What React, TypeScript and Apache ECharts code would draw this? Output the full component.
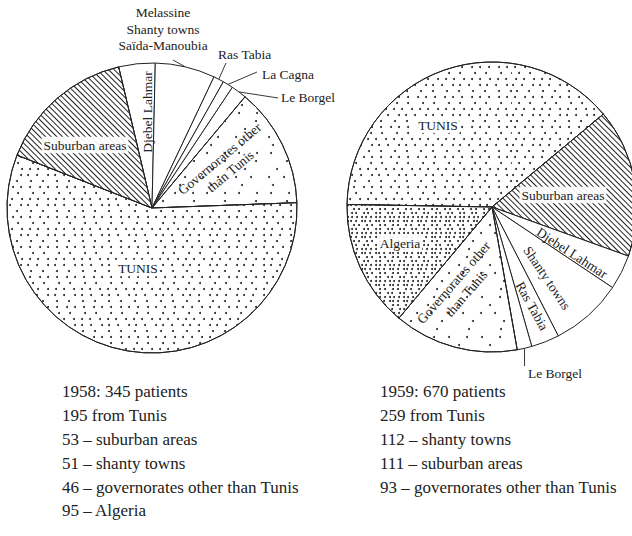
import React, { useEffect, useRef } from 'react';
import * as echarts from 'echarts';

// ---------- data ----------
const pie1958Names = [
  'Djebel Lahmar',
  'Melassine\nShanty towns\nSaïda-Manoubia',
  'Ras Tabia',
  'La Cagna',
  'Le Borgel',
  'Governorates other\nthan Tunis',
  'TUNIS',
  'Suburban areas',
];
const pie1958Values = [14, 23, 4, 4, 6, 46, 195, 53];

const pie1959Names = [
  'TUNIS',
  'Suburban areas',
  'Djebel Lahmar',
  'Shanty towns',
  'Ras Tabia',
  'Le Borgel',
  'Governorates other\nthan Tunis',
  'Algeria',
];
const pie1959Values = [259, 111, 26, 54, 21, 11, 93, 95];

const caption1958 = [
  '1958: 345 patients',
  '195 from Tunis',
  '53 – suburban areas',
  '51 – shanty towns',
  '46 – governorates other than Tunis',
  '95 – Algeria',
];
const caption1959 = [
  '1959: 670 patients',
  '259 from Tunis',
  '112 – shanty towns',
  '111 – suburban areas',
  '93 – governorates other than Tunis',
];

// ---------- styles ----------
const INK = '#222';
const FONT = 'Liberation Serif';

const decals: Record<string, any> = {
  dots: {
    symbol: 'circle',
    symbolSize: 1,
    color: INK,
    backgroundColor: '#fff',
    dashArrayX: [
      [1.75, 6.25, 1.75, 8.25, 1.75, 4.25],
      [0, 3.5, 1.75, 9.25, 1.75, 7.75],
      [0, 1.25, 1.75, 7.5, 1.75, 5.5, 1.75, 4.5],
      [0, 5.5, 1.75, 8.75, 1.75, 6.25],
      [0, 2.5, 1.75, 5.75, 1.75, 7.5, 1.75, 3],
    ],
    dashArrayY: [1.75, 3.25],
  },
  dense: {
    symbol: 'circle',
    symbolSize: 1,
    color: INK,
    backgroundColor: '#fff',
    dashArrayX: [
      [1.25, 2.25, 1.25, 3.5, 1.25, 0.5],
      [0, 1.5, 1.25, 2.75, 1.25, 3.25],
      [0, 2.75, 1.25, 1.75, 1.25, 3],
      [0, 0.5, 1.25, 3, 1.25, 2.25, 1.25, 0.5],
    ],
    dashArrayY: [1.25, 1.75],
  },
  sparse: {
    symbol: 'circle',
    symbolSize: 1,
    color: INK,
    backgroundColor: '#fff',
    dashArrayX: [
      [1.25, 11.75, 1.25, 15.75],
      [0, 7, 1.25, 21.75],
      [0, 19.5, 1.25, 9.25],
      [0, 3.25, 1.25, 12.5, 1.25, 11.75],
      [0, 24, 1.25, 4.75],
    ],
    dashArrayY: [1.25, 5.75],
  },
  hatch: {
    symbol: 'rect',
    symbolSize: 1,
    symbolKeepAspect: false,
    color: INK,
    backgroundColor: '#fff',
    dashArrayX: [1, 0],
    dashArrayY: [1, 3],
    rotation: Math.PI / 4,
  },
};

const fillByName: Record<string, string> = {
  TUNIS: 'dots',
  'Suburban areas': 'hatch',
  'Governorates other\nthan Tunis': 'sparse',
  Algeria: 'dense',
};

type LabelCfg = {
  outside?: boolean;
  x: number;
  y: number;
  rotate?: number;
  align?: string;
  bg?: boolean;
  end?: [number | null, number];
};

const labels1958: Record<string, LabelCfg> = {
  'Djebel Lahmar': { x: 147, y: 112, rotate: 90 },
  'Melassine\nShanty towns\nSaïda-Manoubia': { outside: true, x: 163, y: 29, align: 'center', end: [173, 60] },
  'Ras Tabia': { outside: true, x: 218, y: 54, align: 'left', end: [226, 63] },
  'La Cagna': { outside: true, x: 262, y: 74, align: 'left', end: [257, 72] },
  'Le Borgel': { outside: true, x: 281, y: 97, align: 'left', end: [278, 98] },
  'Governorates other\nthan Tunis': { x: 225, y: 165, rotate: 40 },
  TUNIS: { x: 138, y: 268, bg: true },
  'Suburban areas': { x: 85, y: 145, bg: true },
};

const labels1959: Record<string, LabelCfg> = {
  TUNIS: { x: 438, y: 125, bg: true },
  'Suburban areas': { x: 563, y: 195, bg: true },
  'Djebel Lahmar': { x: 572, y: 253, rotate: -33 },
  'Shanty towns': { x: 547, y: 278, rotate: -56 },
  'Ras Tabia': { x: 532, y: 306, rotate: -61 },
  'Le Borgel': { outside: true, x: 528, y: 373, align: 'left', end: [null, 366] },
  'Governorates other\nthan Tunis': { x: 460, y: 288, rotate: 49 },
  Algeria: { x: 400, y: 243, bg: true },
};

const labelText = {
  fontFamily: FONT,
  fontSize: 13.5,
  color: INK,
  lineHeight: 16.5,
};

function buildData(names: string[], values: number[], cfgs: Record<string, LabelCfg>) {
  return names.map((name, i) => {
    const cfg = cfgs[name];
    const fill = fillByName[name];
    return {
      name,
      value: values[i],
      itemStyle: fill ? { color: '#fff', decal: decals[fill] } : { color: '#fff' },
      label: {
        show: true,
        ...labelText,
        position: cfg.outside ? 'outside' : 'inside',
        rotate: cfg.rotate ?? 0,
        backgroundColor: cfg.bg ? 'rgba(255,255,255,0.92)' : 'transparent',
        padding: cfg.bg ? [0, 2] : 0,
      },
      labelLine: { show: !!cfg.outside },
    };
  });
}

function makeLayout(names: string[], cfgs: Record<string, LabelCfg>) {
  return (p: any) => {
    const cfg = cfgs[names[p.dataIndex]];
    const res: any = {
      x: cfg.x,
      y: cfg.y,
      align: cfg.align ?? 'center',
      verticalAlign: 'middle',
    };
    if (cfg.end && p.labelLinePoints) {
      const a = p.labelLinePoints[0];
      res.labelLinePoints = [
        [a[0], a[1]],
        [cfg.end[0] == null ? a[0] : cfg.end[0], cfg.end[1]],
      ];
    }
    return res;
  };
}

function pieSeries(names: string[], values: number[], cfgs: Record<string, LabelCfg>, center: number[], startAngle: number) {
  return {
    type: 'pie',
    center,
    radius: 145,
    startAngle,
    clockwise: true,
    avoidLabelOverlap: false,
    silent: true,
    itemStyle: { borderColor: INK, borderWidth: 1 },
    label: { ...labelText },
    labelLine: {
      length: 8,
      length2: 0,
      smooth: false,
      lineStyle: { color: INK, width: 0.9 },
    },
    labelLayout: makeLayout(names, cfgs),
    data: buildData(names, values, cfgs),
  };
}

const captionStyle = {
  fontFamily: FONT,
  fontSize: 17,
  lineHeight: 23.8,
  fill: INK,
};

export default function App() {
  const ref = useRef<HTMLDivElement>(null);
  useEffect(() => {
    if (!ref.current) return;
    const chart = echarts.init(ref.current, undefined, { renderer: 'svg' });
    chart.setOption({
      animation: false,
      backgroundColor: '#fff',
      series: [
        pieSeries(pie1958Names, pie1958Values, labels1958, [152, 208], 103.3),
        pieSeries(pie1959Names, pie1959Values, labels1959, [492, 207], 179),
      ],
      graphic: [
        {
          type: 'text',
          left: 62,
          top: 380,
          style: { text: caption1958.join('\n'), ...captionStyle },
        },
        {
          type: 'text',
          left: 380,
          top: 380,
          style: { text: caption1959.join('\n'), ...captionStyle },
        },
      ],
    });
    return () => chart.dispose();
  }, []);
  return (
    <div
      ref={ref}
      style={{ position: 'fixed', left: 0, top: 0, width: 632, height: 536, background: '#fff' }}
    />
  );
}
